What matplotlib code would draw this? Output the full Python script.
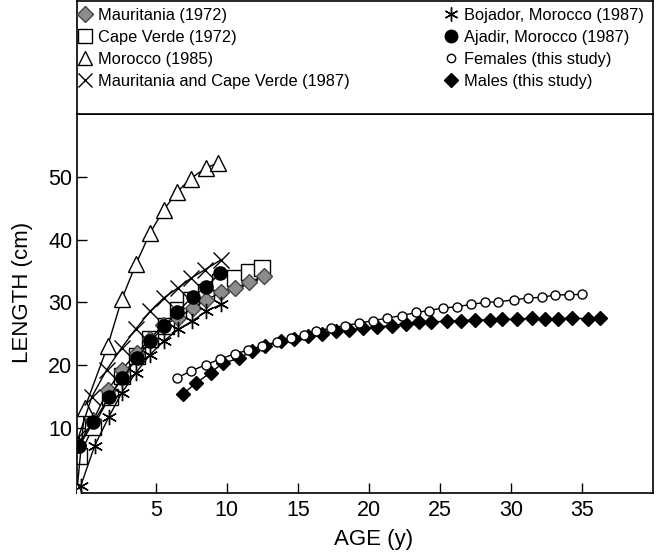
import matplotlib
matplotlib.use('Agg')
import matplotlib.pyplot as plt
from matplotlib.lines import Line2D

plt.rcParams['font.family'] = ['Liberation Sans', 'DejaVu Sans']

# ── data ────────────────────────────────────────────────────
mau72_age = [-0.45, 0.6, 1.65, 2.6, 3.65, 4.6, 5.5, 6.55, 7.6, 8.55, 9.6, 10.6, 11.55, 12.6]
mau72_len = [7.3, 11.3, 16.1, 19.3, 21.9, 24.2, 26.4, 27.5, 29.1, 30.4, 31.6, 32.3, 33.2, 34.2]

cv72_age = [-0.4, 0.6, 1.75, 2.65, 3.65, 4.6, 5.7, 6.55, 7.5, 8.55, 9.55, 10.55, 11.55, 12.5]
cv72_len = [5.5, 10.2, 15.0, 18.3, 21.4, 24.2, 26.3, 28.8, 30.4, 31.7, 33.2, 33.9, 34.8, 35.5]

mor85_age = [-0.55, 0.0, 1.6, 2.6, 3.6, 4.6, 5.55, 6.5, 7.45, 8.5, 9.4]
mor85_len = [0.0, 13.2, 23.0, 30.5, 36.1, 41.1, 44.7, 47.6, 49.7, 51.4, 52.2]

mcv87_age = [-0.45, 0.5, 1.55, 2.6, 3.6, 4.6, 5.55, 6.55, 7.5, 8.45, 9.6]
mcv87_len = [8.5, 15.0, 19.3, 22.8, 25.8, 28.6, 30.7, 32.3, 33.9, 35.2, 36.8]

boj87_age = [-0.3, 0.7, 1.7, 2.6, 3.6, 4.6, 5.55, 6.55, 7.55, 8.55, 9.6]
boj87_len = [0.7, 7.2, 11.8, 15.6, 18.8, 21.7, 23.8, 25.7, 27.0, 28.6, 29.7]

aja87_age = [-0.4, 0.6, 1.7, 2.65, 3.65, 4.6, 5.6, 6.5, 7.6, 8.55, 9.55]
aja87_len = [7.1, 10.9, 14.9, 17.9, 21.1, 23.8, 26.2, 28.5, 30.9, 32.5, 34.7]

fem_age = [6.5, 7.5, 8.55, 9.55, 10.55, 11.5, 12.5, 13.5, 14.5, 15.4, 16.3, 17.3, 18.3, 19.3, 20.3,
           21.3, 22.3, 23.35, 24.2, 25.2, 26.2, 27.2, 28.2, 29.1, 30.2, 31.2, 32.2, 33.1, 34.1, 35.0]
fem_len = [18.0, 19.1, 20.1, 21.0, 21.8, 22.4, 23.1, 23.7, 24.3, 24.8, 25.4, 25.9, 26.3, 26.7, 27.1,
           27.5, 27.9, 28.4, 28.7, 29.1, 29.3, 29.7, 30.0, 30.1, 30.4, 30.7, 30.8, 31.2, 31.2, 31.3]

male_age = [6.9, 7.85, 8.85, 9.7, 10.85, 11.75, 12.7, 13.8, 14.75, 15.7, 16.7, 17.7, 18.6, 19.6, 20.6, 21.6,
            22.6, 23.5, 24.4, 25.5, 26.5, 27.5, 28.5, 29.4, 30.4, 31.5, 32.4, 33.3, 34.3, 35.4, 36.3]
male_len = [15.4, 17.2, 18.8, 20.3, 21.1, 22.2, 23.0, 23.8, 24.1, 24.7, 25.0, 25.4, 25.6, 25.9, 26.1, 26.3,
            26.6, 26.9, 26.9, 27.0, 27.1, 27.2, 27.2, 27.3, 27.3, 27.5, 27.4, 27.4, 27.5, 27.4, 27.5]

labels_left = ['Mauritania (1972)', 'Cape Verde (1972)', 'Morocco (1985)',
               'Mauritania and Cape Verde (1987)']
labels_right = ['Bojador, Morocco (1987)', 'Ajadir, Morocco (1987)',
                'Females (this study)', 'Males (this study)']

GRAY = '#8c8c8c'
W, H = 657, 555

fig = plt.figure(figsize=(W / 100, H / 100), dpi=100)
ax = fig.add_axes([77 / W, 62 / H, 576 / W, 379 / H])

lw = 1.0
ax.plot(cv72_age, cv72_len, '-', color='k', lw=lw, marker='s', ms=12, mfc='white', mec='k', mew=1, zorder=2)
ax.plot(mau72_age, mau72_len, '-', color='k', lw=lw, marker='D', ms=8.5, mfc=GRAY, mec='#444444', mew=1, zorder=3)
ax.plot(mor85_age, mor85_len, '-', color='k', lw=lw, marker='^', ms=12, mfc='white', mec='k', mew=1, zorder=3)
ax.plot(aja87_age, aja87_len, '-', color='k', lw=lw, marker='o', ms=9.5, mfc='k', mec='k', zorder=4)
ax.plot(mcv87_age, mcv87_len, '-', color='k', lw=lw, marker='x', ms=11, mec='k', mew=1, zorder=5)
ax.plot(boj87_age, boj87_len, '-', color='k', lw=lw, marker=(6, 2, 0), ms=11, mec='k', mew=1, zorder=5)
ax.plot(fem_age, fem_len, '-', color='k', lw=lw, marker='o', ms=6.5, mfc='white', mec='k', mew=1, zorder=4)
ax.plot(male_age, male_len, '-', color='k', lw=lw, marker='D', ms=7, mfc='k', mec='k', zorder=3)

ax.set_xlim(-0.55, 40)
ax.set_ylim(-0.35, 60)
ax.set_xticks([5, 10, 15, 20, 25, 30, 35])
ax.set_yticks([10, 20, 30, 40, 50])
ax.tick_params(direction='in', length=7.5, width=1, labelsize=15.5, top=False, right=False)
ax.tick_params(axis='x', pad=5)
for s in ax.spines.values():
    s.set_linewidth(1.2)
ax.set_xlabel('AGE (y)', fontsize=16)
ax.set_ylabel('LENGTH (cm)', fontsize=16)
ax.xaxis.set_label_coords(0.514, -0.095)
ax.yaxis.set_label_coords(-0.076, 0.528)

# legend box above the plot
lax = fig.add_axes([77 / W, 441 / H, 576 / W, 113 / H])
lax.set_xticks([])
lax.set_yticks([])
for s in lax.spines.values():
    s.set_linewidth(1.2)

h_left = [
    Line2D([], [], ls='none', marker='D', ms=8.5, mfc=GRAY, mec='#444444'),
    Line2D([], [], ls='none', marker='s', ms=10.5, mfc='white', mec='k'),
    Line2D([], [], ls='none', marker='^', ms=10.5, mfc='white', mec='k'),
    Line2D([], [], ls='none', marker='x', ms=10, mec='k'),
]
h_right = [
    Line2D([], [], ls='none', marker=(6, 2, 0), ms=10, mec='k'),
    Line2D([], [], ls='none', marker='o', ms=9, mfc='k', mec='k'),
    Line2D([], [], ls='none', marker='o', ms=6, mfc='white', mec='k'),
    Line2D([], [], ls='none', marker='D', ms=7, mfc='k', mec='k'),
]
kw = dict(loc='upper left', frameon=False, fontsize=11.8, handlelength=0.8,
          handletextpad=0.4, labelspacing=0.43, borderpad=0, borderaxespad=0)
top = (113 - 7) / 113
leg1 = lax.legend(h_left, labels_left, bbox_to_anchor=((78.6 - 77) / 576, top), **kw)
lax.add_artist(leg1)
lax.legend(h_right, labels_right, bbox_to_anchor=((444 - 77) / 576, top), **kw)

fig.savefig('out.png', dpi=100)
